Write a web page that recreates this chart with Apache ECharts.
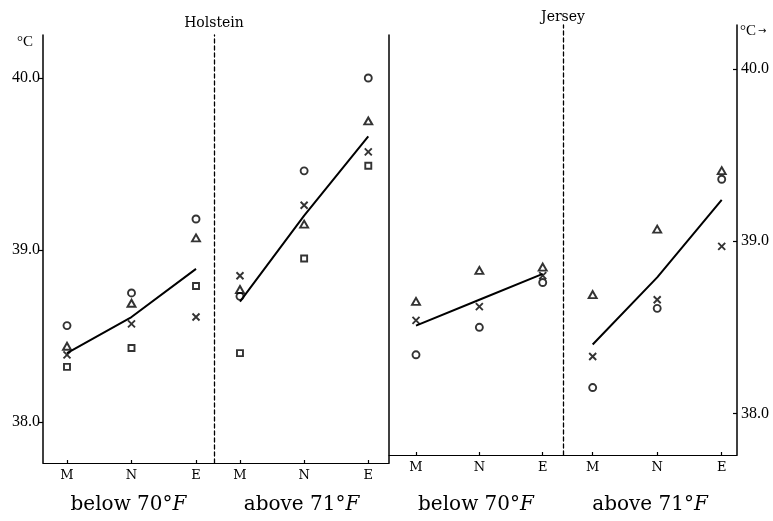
<!DOCTYPE html>
<html><head><meta charset="utf-8">
<script src="https://cdn.jsdelivr.net/npm/echarts@6/dist/echarts.min.js"></script>
<style>html,body{margin:0;padding:0;background:#fff}#c{width:773px;height:521px}</style>
</head><body><div id="c"></div>
<script>
// ---- data ----
const categories = ['M', 'N', 'E'];
const panelLabels = ['below 70°F', 'above 71°F', 'below 70°F', 'above 71°F'];
const breedTitles = ['Holstein', 'Jersey'];
const yTickValues = [38.0, 39.0, 40.0];

const holsteinBelowCircle   = [38.56, 38.75, 39.18];
const holsteinBelowTriangle = [38.44, 38.69, 39.07];
const holsteinBelowCross    = [38.39, 38.57, 38.61];
const holsteinBelowSquare   = [38.32, 38.43, 38.79];
const holsteinBelowMean     = [38.40, 38.61, 38.89];

const holsteinAboveCircle   = [38.73, 39.46, 40.00];
const holsteinAboveTriangle = [38.77, 39.15, 39.75];
const holsteinAboveCross    = [38.85, 39.26, 39.57];
const holsteinAboveSquare   = [38.40, 38.95, 39.49];
const holsteinAboveMean     = [38.70, 39.20, 39.66];

const jerseyBelowCircle   = [38.34, 38.50, 38.76];
const jerseyBelowTriangle = [38.65, 38.83, 38.85];
const jerseyBelowCross    = [38.54, 38.62, 38.80];
const jerseyBelowMean     = [38.51, 38.66, 38.81];

const jerseyAboveCircle   = [38.15, 38.61, 39.36];
const jerseyAboveTriangle = [38.69, 39.07, 39.41];
const jerseyAboveCross    = [38.33, 38.66, 38.97];
const jerseyAboveMean     = [38.40, 38.79, 39.24];

// ---- layout ----
const panels = [
  {grid:{left:43, top:35, width:171, height:428}, xr:[-0.372, 2.279], yr:[37.761, 40.25], yIdx:0,
   circle:holsteinBelowCircle, triangle:holsteinBelowTriangle, cross:holsteinBelowCross, square:holsteinBelowSquare, mean:holsteinBelowMean},
  {grid:{left:214, top:35, width:175, height:428}, xr:[-0.405, 2.323], yr:[37.761, 40.25], yIdx:2,
   circle:holsteinAboveCircle, triangle:holsteinAboveTriangle, cross:holsteinAboveCross, square:holsteinAboveSquare, mean:holsteinAboveMean},
  {grid:{left:389, top:25, width:174, height:430}, xr:[-0.426, 2.32], yr:[37.758, 40.256], yIdx:3,
   circle:jerseyBelowCircle, triangle:jerseyBelowTriangle, cross:jerseyBelowCross, square:null, mean:jerseyBelowMean},
  {grid:{left:563, top:25, width:174, height:430}, xr:[-0.46, 2.237], yr:[37.758, 40.256], yIdx:4,
   circle:jerseyAboveCircle, triangle:jerseyAboveTriangle, cross:jerseyAboveCross, square:null, mean:jerseyAboveMean}
];

const serif = 'DejaVu Serif';
const numFont = 'Liberation Serif';
const ink = '#000';

const grids = panels.map(p => p.grid);

const xAxes = panels.map((p, i) => ({
  type: 'value', gridIndex: i, min: p.xr[0], max: p.xr[1],
  splitLine: {show: false},
  axisLine: {show: true, onZero: false, lineStyle: {color: ink, width: 1.2}},
  axisTick: {show: true, inside: true, length: 3, customValues: [0, 1, 2], lineStyle: {color: ink, width: 1.2}},
  axisLabel: {show: true, customValues: [0, 1, 2], margin: 6,
    formatter: v => categories[Math.round(v)] || '',
    fontFamily: serif, fontSize: 13, color: ink},
  name: panelLabels[i].replace(/F$/, '{i|F}'),
  nameLocation: 'middle', nameGap: i < 2 ? 32 : 40,
  nameTextStyle: {fontFamily: serif, fontSize: 20, color: ink,
    rich: {i: {fontFamily: serif, fontStyle: 'italic', fontSize: 20, color: ink}}}
}));

function yAx(gridIndex, yr, position, opts) {
  return Object.assign({
    type: 'value', gridIndex, min: yr[0], max: yr[1], position,
    splitLine: {show: false},
    axisLine: {show: true, onZero: false, lineStyle: {color: ink, width: 1.5}},
    axisTick: {show: false},
    axisLabel: {show: false}
  }, opts || {});
}

const yAxes = [
  // 0: Holstein left labelled axis
  yAx(0, panels[0].yr, 'left', {
    axisTick: {show: true, length: 4, customValues: yTickValues, lineStyle: {color: ink, width: 1.2}},
    axisLabel: {show: true, customValues: yTickValues, margin: 3, formatter: v => v.toFixed(1),
      fontFamily: numFont, fontSize: 16, color: ink}
  }),
  // 1: Holstein dashed separator
  yAx(0, panels[0].yr, 'right', {axisLine: {show: true, onZero: false, lineStyle: {color: ink, width: 1.3, type: [4, 3]}}}),
  // 2: Holstein right solid boundary
  yAx(1, panels[1].yr, 'right'),
  // 3: Jersey dashed separator
  yAx(2, panels[2].yr, 'right', {axisLine: {show: true, onZero: false, lineStyle: {color: ink, width: 1.3, type: [4, 3]}}}),
  // 4: Jersey right labelled axis
  yAx(3, panels[3].yr, 'right', {
    axisTick: {show: true, inside: true, length: 4, customValues: yTickValues, lineStyle: {color: ink, width: 1.2}},
    axisLabel: {show: true, customValues: yTickValues, margin: 4, formatter: v => v.toFixed(1),
      fontFamily: numFont, fontSize: 16, color: ink}
  })
];

const markerStyle = {color: 'rgba(0,0,0,0)', borderColor: ink, borderWidth: 1.9};
const series = [];
panels.forEach((p, i) => {
  const base = {xAxisIndex: i, yAxisIndex: p.yIdx, silent: true, animation: false};
  series.push(Object.assign({type: 'line', data: p.mean.map((v, k) => [k, v]), symbol: 'none',
    lineStyle: {color: ink, width: 2}}, base));
  series.push(Object.assign({type: 'scatter', data: p.circle.map((v, k) => [k, v]), symbol: 'circle', symbolSize: 7, itemStyle: markerStyle}, base));
  series.push(Object.assign({type: 'scatter', data: p.triangle.map((v, k) => [k, v]), symbol: 'triangle', symbolSize: [8, 7], itemStyle: markerStyle}, base));
  series.push(Object.assign({type: 'scatter', data: p.cross.map((v, k) => [k, v]), symbol: 'path://M0,0L10,10M10,0L0,10', symbolSize: 7, itemStyle: markerStyle}, base));
  if (p.square) series.push(Object.assign({type: 'scatter', data: p.square.map((v, k) => [k, v]), symbol: 'rect', symbolSize: 6, itemStyle: markerStyle}, base));
});

const chart = echarts.init(document.getElementById('c'), null, {renderer: 'canvas'});
chart.setOption({
  backgroundColor: '#fff',
  animation: false,
  grid: grids,
  xAxis: xAxes,
  yAxis: yAxes,
  series,
  graphic: [
    {type: 'text', x: 214, y: 23, style: {text: breedTitles[0], font: '14px "DejaVu Serif"', fill: ink, align: 'center', verticalAlign: 'middle'}},
    {type: 'text', x: 563, y: 17, style: {text: breedTitles[1], font: '14px "DejaVu Serif"', fill: ink, align: 'center', verticalAlign: 'middle'}},
    {type: 'text', x: 33, y: 42, style: {text: '°C', font: '15px "Liberation Serif"', fill: ink, align: 'right', verticalAlign: 'middle'}},
    {type: 'text', x: 740, y: 31, style: {text: '°C{a|→}', font: '15px "Liberation Serif"', fill: ink, align: 'left', verticalAlign: 'middle',
      rich: {a: {fontFamily: 'DejaVu Sans', fontSize: 10, fill: ink, padding: [0, 0, 0, 2]}}}}
  ]
});
</script></body></html>
